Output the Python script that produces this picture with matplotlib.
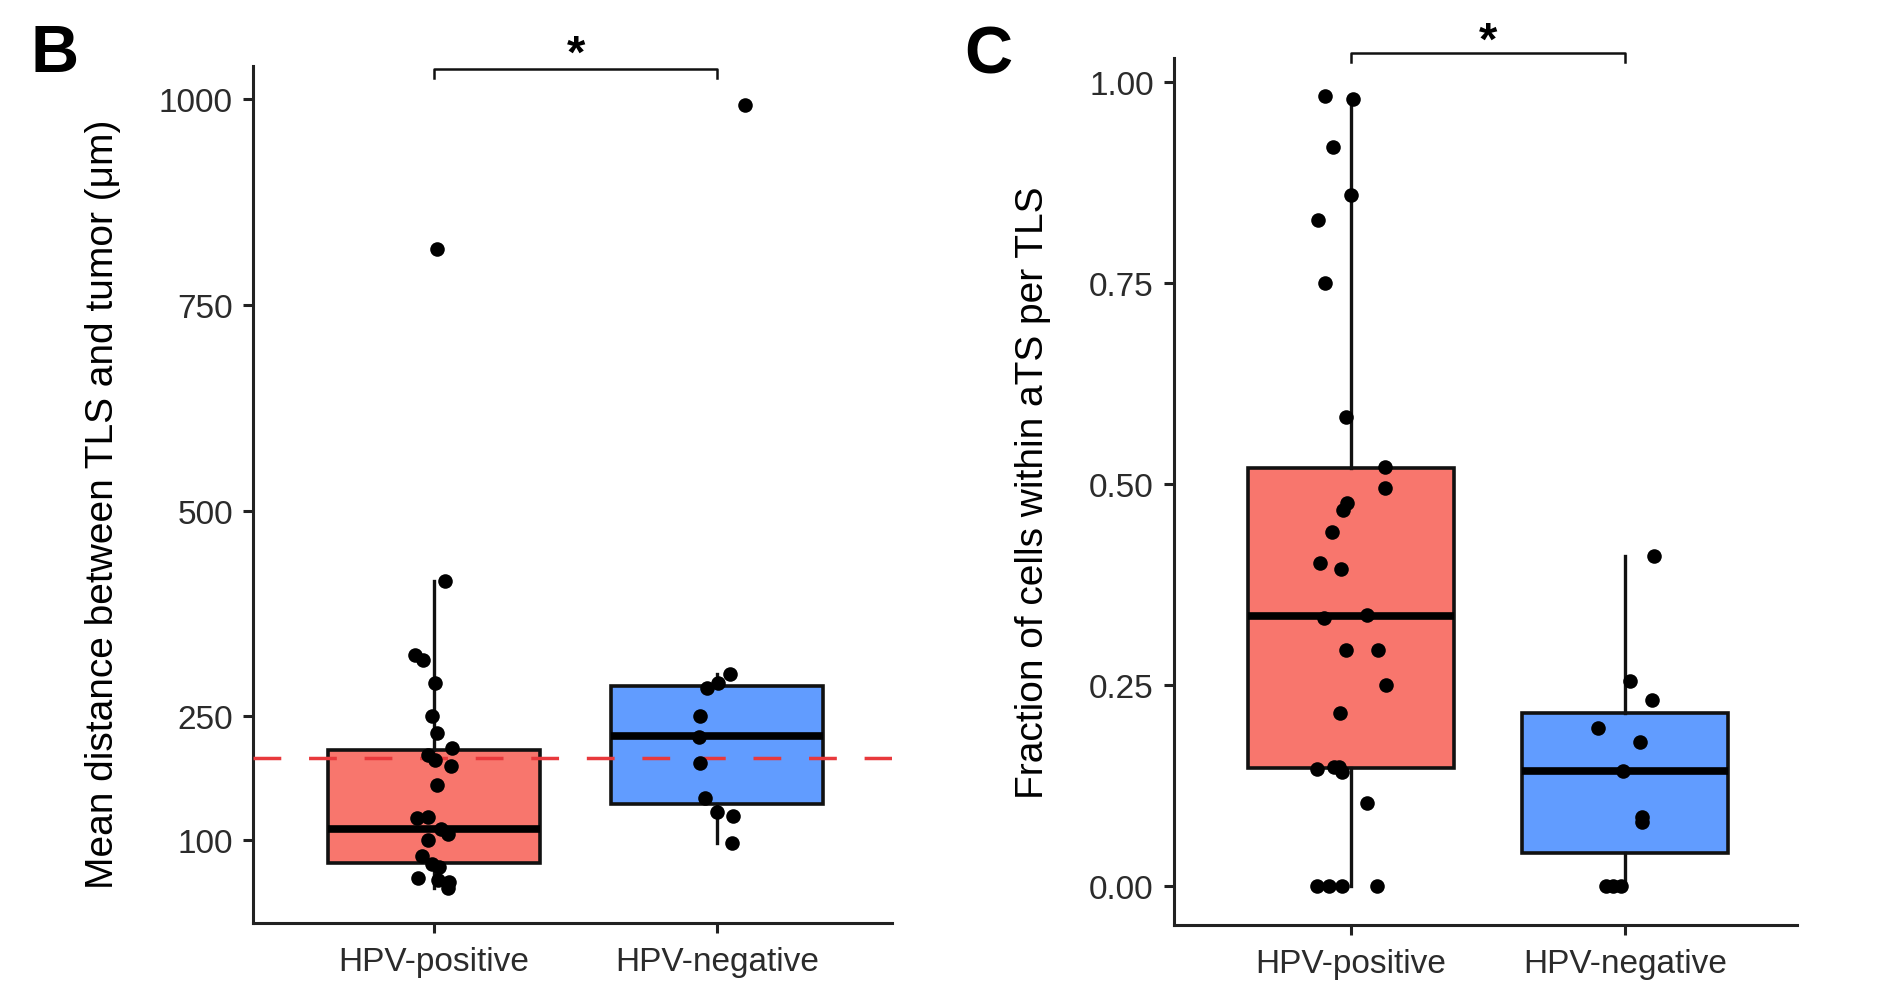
import matplotlib.pyplot as plt
import numpy as np

plt.rcParams['font.family'] = ['Liberation Sans', 'DejaVu Sans']

groups = ['HPV-positive', 'HPV-negative']
red = '#F8766D'
blue = '#619CFF'

# panel B: mean distance between TLS and tumor (um)
dist_pos = [818, 415, 324, 318, 290, 250, 230, 211, 203, 197, 190, 166,
            127, 128, 113, 107, 100, 80, 71, 67, 54, 51, 49, 42]
dist_pos_jit = [0.01, 0.037, -0.066, -0.041, 0.002, -0.008, 0.009, 0.064, -0.023, 0.002, 0.058, 0.009,
                -0.06, -0.023, 0.023, 0.049, -0.023, -0.044, -0.006, 0.017, -0.058, 0.014, 0.052, 0.049]
dist_neg = [993, 302, 290, 285, 250, 225, 193, 151, 134, 129, 96]
dist_neg_jit = [0.10, 0.047, 0.003, -0.036, -0.059, -0.065, -0.059, -0.043, 0.001, 0.057, 0.051]
# box stats (q1, median, q3, lower whisker, upper whisker)
dist_q1 = [71.4, 143.1]
dist_med = [113.5, 226.6]
dist_q3 = [209.4, 287.4]
dist_lo = [42, 96]
dist_hi = [415, 302]
dist_cut = 200

# panel C: fraction of cells within aTS per TLS
frac_pos = [0.982, 0.979, 0.919, 0.859, 0.828, 0.750, 0.583, 0.521, 0.495, 0.476, 0.468,
            0.440, 0.402, 0.394, 0.334, 0.337, 0.294, 0.294, 0.250, 0.216, 0.146, 0.148,
            0.148, 0.142, 0.103, 0.0, 0.0, 0.0, 0.0]
frac_pos_jit = [-0.093, 0.009, -0.065, 0.0, -0.12, -0.093, -0.019, 0.124, 0.124, -0.013, -0.030,
                -0.069, -0.111, -0.037, -0.099, 0.060, -0.019, 0.100, 0.128, -0.039, -0.125, -0.063,
                -0.045, -0.031, 0.060, -0.123, -0.081, -0.031, 0.094]
frac_neg = [0.411, 0.255, 0.232, 0.197, 0.179, 0.143, 0.086, 0.080, 0.0, 0.0, 0.0]
frac_neg_jit = [0.105, 0.018, 0.099, -0.098, 0.057, -0.008, 0.061, 0.061, -0.067, -0.042, -0.014]
frac_q1 = [0.147, 0.041]
frac_med = [0.336, 0.144]
frac_q3 = [0.520, 0.216]
frac_lo = [0.0, 0.0]
frac_hi = [0.979, 0.411]

fig = plt.figure(figsize=(18.78, 10.04), dpi=100)
axB = fig.add_axes([0.1347, 0.0797, 0.3403, 0.8536])
axC = fig.add_axes([0.6251, 0.0777, 0.3317, 0.8635])


def draw_panel(ax, q1, med, q3, lo, hi, pos_y, pos_j, neg_y, neg_j):
    stats = []
    for i in range(2):
        stats.append(dict(q1=q1[i], med=med[i], q3=q3[i], whislo=lo[i], whishi=hi[i], fliers=[]))
    bp = ax.bxp(stats, positions=[1, 2], widths=0.75, patch_artist=True, showfliers=False,
                showcaps=False,
                boxprops=dict(edgecolor='#111111', linewidth=2.6),
                whiskerprops=dict(color='#111111', linewidth=2.4),
                medianprops=dict(color='black', linewidth=5.5, solid_capstyle='butt'))
    for patch, c in zip(bp['boxes'], [red, blue]):
        patch.set_facecolor(c)
    ax.scatter(1 + np.array(pos_j), pos_y, s=110, color='black', zorder=5, linewidths=0)
    ax.scatter(2 + np.array(neg_j), neg_y, s=110, color='black', zorder=5, linewidths=0)
    ax.set_xticks([1, 2])
    ax.set_xticklabels(groups)
    for s in ['top', 'right']:
        ax.spines[s].set_visible(False)
    for s in ['left', 'bottom']:
        ax.spines[s].set_linewidth(2.2)
        ax.spines[s].set_color('#222222')
    ax.tick_params(axis='both', length=7.5, width=2.2, color='#222222',
                   labelsize=24, labelcolor='#2b2b2b')
    ax.tick_params(axis='x', pad=9)
    ax.tick_params(axis='y', pad=7)


def bracket(ax, y, tip, star_y):
    ax.plot([1, 1, 2, 2], [y - tip, y, y, y - tip], color='#111111', lw=1.8, clip_on=False)
    ax.text(1.5, star_y, '*', ha='center', va='baseline', fontsize=34, fontweight='bold',
            clip_on=False)


draw_panel(axB, dist_q1, dist_med, dist_q3, dist_lo, dist_hi,
           dist_pos, dist_pos_jit, dist_neg, dist_neg_jit)
axB.axhline(dist_cut, color='#E8393C', lw=2.5, dashes=(8, 8), zorder=4)
axB.set_xlim(0.36, 2.618)
axB.set_ylim(-1, 1040)
axB.set_yticks([100, 250, 500, 750, 1000])
axB.set_ylabel('Mean distance between TLS and tumor (μm)', fontsize=28)
axB.yaxis.set_label_coords(-0.207, 0.49)
bracket(axB, 1036, 11, 1039)

draw_panel(axC, frac_q1, frac_med, frac_q3, frac_lo, frac_hi,
           frac_pos, frac_pos_jit, frac_neg, frac_neg_jit)
axC.set_xlim(0.354, 2.628)
axC.set_ylim(-0.048, 1.0295)
axC.set_yticks([0, 0.25, 0.5, 0.75, 1.0])
axC.set_yticklabels(['0.00', '0.25', '0.50', '0.75', '1.00'])
axC.set_ylabel('Fraction of cells within aTS per TLS', fontsize=28)
axC.yaxis.set_label_coords(-0.198, 0.5)
bracket(axC, 1.036, 0.012, 1.035)

fig.text(55 / 1878, 1 - 55 / 1004, 'B', fontsize=48, fontweight='bold', ha='center', va='center')
fig.text(988 / 1878, 1 - 57 / 1004, 'C', fontsize=48, fontweight='bold', ha='center', va='center')

fig.savefig('out.png', dpi=100, facecolor='white')
